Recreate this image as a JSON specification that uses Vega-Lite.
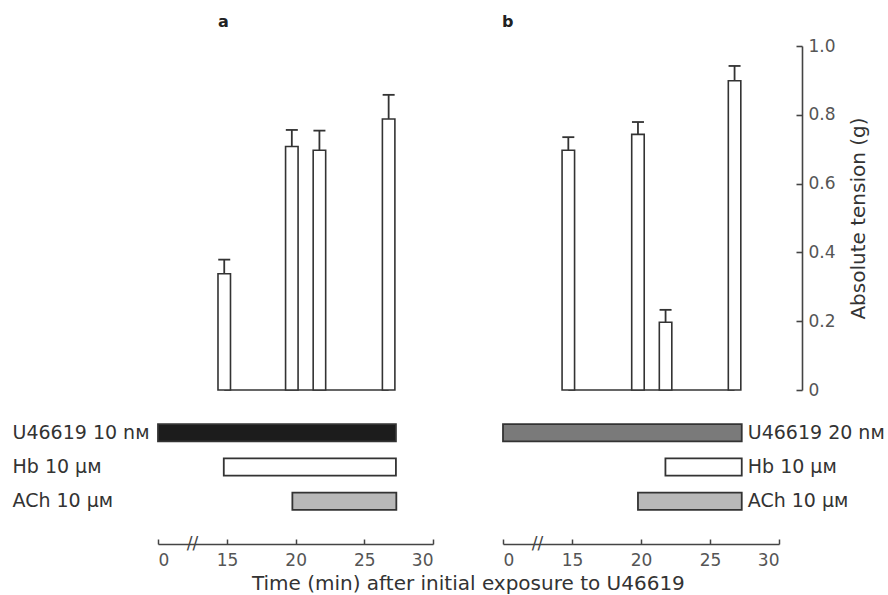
{
  "$schema": "https://vega.github.io/schema/vega-lite/v6.json",
  "padding": {"left": 12, "top": 14, "right": 5, "bottom": 3},
  "background": "white",
  "datasets": {
    "tension": [
      {"panel": "a", "time": 14.4, "mean": 0.338, "hi": 0.379},
      {"panel": "a", "time": 19.72, "mean": 0.708, "hi": 0.756},
      {"panel": "a", "time": 21.73, "mean": 0.697, "hi": 0.754},
      {"panel": "a", "time": 26.77, "mean": 0.788, "hi": 0.858},
      {"panel": "b", "time": 14.2, "mean": 0.697, "hi": 0.735},
      {"panel": "b", "time": 19.78, "mean": 0.743, "hi": 0.779},
      {"panel": "b", "time": 21.78, "mean": 0.197, "hi": 0.233},
      {"panel": "b", "time": 26.78, "mean": 0.899, "hi": 0.942}
    ],
    "drugs": [
      {"panel": "a", "agent": "U46619 10", "label": "U46619 10 nᴍ", "start": 0, "end": 27.3},
      {"panel": "a", "agent": "Hb", "label": "Hb 10 μᴍ", "start": 14.3, "end": 27.3},
      {"panel": "a", "agent": "ACh", "label": "ACh 10 μᴍ", "start": 19.76, "end": 27.33},
      {"panel": "b", "agent": "U46619 20", "label": "U46619 20 nᴍ", "start": 0, "end": 27.3},
      {"panel": "b", "agent": "Hb", "label": "Hb 10 μᴍ", "start": 21.77, "end": 27.3},
      {"panel": "b", "agent": "ACh", "label": "ACh 10 μᴍ", "start": 19.78, "end": 27.3}
    ],
    "breaks": [
      {"panel": "a", "t": 7.5, "mark": "//"},
      {"panel": "b", "t": 7.5, "mark": "//"}
    ]
  },
  "title": {
    "text": "Time (min) after initial exposure to U46619",
    "orient": "bottom",
    "anchor": "middle",
    "offset": 6,
    "dx": 20,
    "font": "DejaVu Sans",
    "fontSize": 20,
    "fontWeight": "normal",
    "color": "#333"
  },
  "bounds": "flush",
  "columns": 2,
  "spacing": {"row": 0, "column": 70},
  "resolve": {"scale": {"x": "independent", "y": "independent"}},
  "concat": [
    {
      "width": 275,
      "height": 344,
      "title": {"text": "a", "anchor": "start", "dx": 60, "offset": 16, "fontSize": 16, "fontWeight": "bold", "font": "DejaVu Sans", "color": "#222"},
      "data": {"name": "tension"},
      "transform": [{"filter": "datum.panel === 'a'"}],
      "layer": [
        {
          "mark": {"type": "rule", "stroke": "#333", "strokeWidth": 1.6},
          "encoding": {
            "x": {"aggregate": "min", "field": "time", "type": "quantitative", "scale": {"domain": [0, 15, 30], "range": [0, 69, 275], "padding": 0, "nice": false, "zero": false}, "axis": null},
            "x2": {"aggregate": "max", "field": "time"},
            "y": {"datum": 0, "type": "quantitative", "scale": {"domain": [0, 1]}, "axis": null}
          }
        },
        {
          "mark": {"type": "rule", "stroke": "#333", "strokeWidth": 1.8},
          "encoding": {
            "x": {"field": "time", "type": "quantitative"},
            "y": {"field": "mean", "type": "quantitative"},
            "y2": {"field": "hi"}
          }
        },
        {
          "mark": {"type": "tick", "orient": "horizontal", "color": "#333", "size": 12, "thickness": 1.8, "opacity": 1},
          "encoding": {
            "x": {"field": "time", "type": "quantitative"},
            "y": {"field": "hi", "type": "quantitative"}
          }
        },
        {
          "mark": {"type": "bar", "width": 12.5, "fill": "white", "stroke": "#333", "strokeWidth": 1.6},
          "encoding": {
            "x": {"field": "time", "type": "quantitative"},
            "y": {"field": "mean", "type": "quantitative"}
          }
        }
      ]
    },
    {
      "width": 276,
      "height": 344,
      "title": {"text": "b", "anchor": "start", "dx": -1, "offset": 7, "fontSize": 16, "fontWeight": "bold", "font": "DejaVu Sans", "color": "#222"},
      "data": {"name": "tension"},
      "transform": [{"filter": "datum.panel === 'b'"}],
      "layer": [
        {
          "mark": {"type": "rule", "stroke": "#333", "strokeWidth": 1.6},
          "encoding": {
            "x": {"aggregate": "min", "field": "time", "type": "quantitative", "scale": {"domain": [0, 15, 30], "range": [0, 69, 276], "padding": 0, "nice": false, "zero": false}, "axis": null},
            "x2": {"aggregate": "max", "field": "time"},
            "y": {"datum": 0, "type": "quantitative", "scale": {"domain": [0, 1]},
              "axis": {"orient": "right", "offset": 23, "values": [0, 0.2, 0.4, 0.6, 0.8, 1.0], "labelExpr": "datum.value === 0 ? '0' : format(datum.value, '.1f')", "grid": false, "tickSize": -6, "labelPadding": 12, "domainColor": "#444", "domainWidth": 1.6, "tickColor": "#444", "tickWidth": 1.6, "labelFont": "DejaVu Sans", "labelFontSize": 17, "labelColor": "#555", "labelBaseline": "middle",
                "title": "Absolute tension (g)", "titleFont": "DejaVu Sans", "titleFontSize": 20, "titleFontWeight": "normal", "titleColor": "#333", "titleAngle": 270, "titleX": 56, "titleY": 172, "titleAlign": "center", "titleBaseline": "middle"}}
          }
        },
        {
          "mark": {"type": "rule", "stroke": "#333", "strokeWidth": 1.8},
          "encoding": {
            "x": {"field": "time", "type": "quantitative"},
            "y": {"field": "mean", "type": "quantitative"},
            "y2": {"field": "hi"}
          }
        },
        {
          "mark": {"type": "tick", "orient": "horizontal", "color": "#333", "size": 12, "thickness": 1.8, "opacity": 1},
          "encoding": {
            "x": {"field": "time", "type": "quantitative"},
            "y": {"field": "hi", "type": "quantitative"}
          }
        },
        {
          "mark": {"type": "bar", "width": 12.5, "fill": "white", "stroke": "#333", "strokeWidth": 1.6},
          "encoding": {
            "x": {"field": "time", "type": "quantitative"},
            "y": {"field": "mean", "type": "quantitative"}
          }
        }
      ]
    },
    {
      "width": 275,
      "height": 154,
      "layer": [
        {
          "data": {"name": "drugs"},
          "transform": [{"filter": "datum.panel === 'a'"}],
          "mark": {"type": "bar", "stroke": "#333", "strokeWidth": 1.8},
          "encoding": {
            "x": {"field": "start", "type": "quantitative", "scale": {"domain": [0, 15, 30], "range": [0, 69, 275], "padding": 0, "nice": false, "zero": false},
              "axis": {"values": [0, 15, 20, 25, 30], "title": null, "grid": false, "tickSize": -5, "labelPadding": 13, "domainColor": "#444", "domainWidth": 1.5, "tickColor": "#444", "tickWidth": 1.5, "labelFont": "DejaVu Sans", "labelFontSize": 17, "labelColor": "#555"}},
            "x2": {"field": "end"},
            "y": {"field": "label", "type": "nominal", "sort": ["U46619 10 nᴍ", "Hb 10 μᴍ", "ACh 10 μᴍ"], "scale": {"paddingInner": 0.5, "paddingOuter": 1},
              "axis": {"orient": "left", "title": null, "ticks": false, "domain": false, "labelAlign": "left", "labelPadding": 146, "labelFont": "DejaVu Sans", "labelFontSize": 19, "labelColor": "#333", "labelLimit": 300}},
            "fill": {"field": "agent", "type": "nominal", "scale": {"domain": ["U46619 10", "U46619 20", "Hb", "ACh"], "range": ["#1c1c1c", "#7a7a7a", "#ffffff", "#b8b8b8"]}, "legend": null}
          }
        },
        {
          "data": {"name": "breaks"},
          "transform": [{"filter": "datum.panel === 'a'"}],
          "mark": {"type": "text", "fontSize": 17, "font": "DejaVu Sans", "color": "#444", "baseline": "middle", "align": "center"},
          "encoding": {
            "x": {"field": "t", "type": "quantitative"},
            "y": {"value": "height"},
            "text": {"field": "mark"}
          }
        }
      ]
    },
    {
      "width": 276,
      "height": 154,
      "layer": [
        {
          "data": {"name": "drugs"},
          "transform": [{"filter": "datum.panel === 'b'"}],
          "mark": {"type": "bar", "stroke": "#333", "strokeWidth": 1.8},
          "encoding": {
            "x": {"field": "start", "type": "quantitative", "scale": {"domain": [0, 15, 30], "range": [0, 69, 276], "padding": 0, "nice": false, "zero": false},
              "axis": {"values": [0, 15, 20, 25, 30], "title": null, "grid": false, "tickSize": -5, "labelPadding": 13, "domainColor": "#444", "domainWidth": 1.5, "tickColor": "#444", "tickWidth": 1.5, "labelFont": "DejaVu Sans", "labelFontSize": 17, "labelColor": "#555"}},
            "x2": {"field": "end"},
            "y": {"field": "label", "type": "nominal", "sort": ["U46619 20 nᴍ", "Hb 10 μᴍ", "ACh 10 μᴍ"], "scale": {"paddingInner": 0.5, "paddingOuter": 1}, "axis": null},
            "fill": {"field": "agent", "type": "nominal", "scale": {"domain": ["U46619 10", "U46619 20", "Hb", "ACh"], "range": ["#1c1c1c", "#7a7a7a", "#ffffff", "#b8b8b8"]}, "legend": null}
          }
        },
        {
          "data": {"name": "drugs"},
          "transform": [{"filter": "datum.panel === 'b'"}],
          "mark": {"type": "text", "align": "left", "baseline": "middle", "dx": 6, "fontSize": 19, "font": "DejaVu Sans", "color": "#333"},
          "encoding": {
            "x": {"field": "end", "type": "quantitative"},
            "y": {"field": "label", "type": "nominal", "sort": ["U46619 20 nᴍ", "Hb 10 μᴍ", "ACh 10 μᴍ"]},
            "text": {"field": "label"}
          }
        },
        {
          "data": {"name": "breaks"},
          "transform": [{"filter": "datum.panel === 'b'"}],
          "mark": {"type": "text", "fontSize": 17, "font": "DejaVu Sans", "color": "#444", "baseline": "middle", "align": "center"},
          "encoding": {
            "x": {"field": "t", "type": "quantitative"},
            "y": {"value": "height"},
            "text": {"field": "mark"}
          }
        }
      ]
    }
  ],
  "config": {
    "view": {"stroke": null},
    "font": "DejaVu Sans"
  }
}
